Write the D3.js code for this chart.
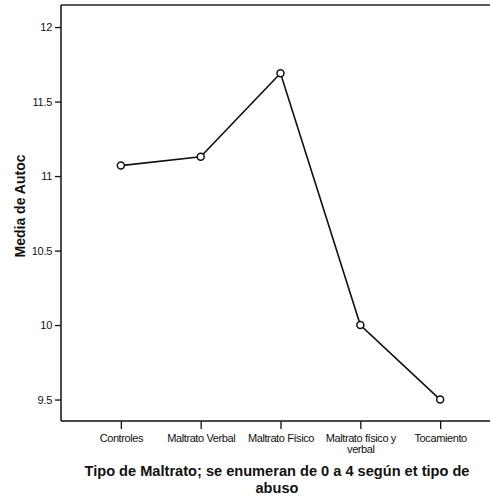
<!DOCTYPE html>
<html>
<head>
<meta charset="utf-8">
<script src="https://cdn.jsdelivr.net/npm/d3@7"></script>
<style>
  body { margin: 0; background: #fff; }
  svg { display: block; font-family: Arial, "Liberation Sans", sans-serif; }
</style>
</head>
<body>
<div id="chart"></div>
<script>
const categories = ['Controles', 'Maltrato Verbal', 'Maltrato Físico', 'Maltrato físico y verbal', 'Tocamiento'];
const means = [11.07, 11.13, 11.69, 10.0, 9.5];
const yTicks = [9.5, 10, 10.5, 11, 11.5, 12];

const width = 490;
const height = 500;
const margin = { left: 61, top: 5, right: 0, bottom: 79 };

const svg = d3.select('#chart')
  .append('svg')
  .attr('width', width)
  .attr('height', height);

const x = d3.scalePoint()
  .domain(categories)
  .range([margin.left, width + 10])
  .padding(0.75);

const y = d3.scaleLinear()
  .domain([9.356, 12.148])
  .range([height - margin.bottom, margin.top]);

// frame: top line
svg.append('line')
  .attr('x1', margin.left).attr('x2', width)
  .attr('y1', margin.top).attr('y2', margin.top)
  .attr('stroke', '#222').attr('stroke-width', 1.5);

const yAxis = svg.append('g')
  .attr('transform', `translate(${margin.left},0)`)
  .call(d3.axisLeft(y).tickValues(yTicks).tickSize(6).tickPadding(3)
    .tickFormat(d => d3.format('~g')(d)));
yAxis.select('.domain').attr('stroke', '#111').attr('stroke-width', 1.5)
  .attr('d', `M0,${margin.top}V${height - margin.bottom}`);
yAxis.selectAll('.tick line').attr('stroke', '#111').attr('stroke-width', 1.3);
yAxis.selectAll('.tick text')
  .style('font-size', '11px')
  .attr('fill', '#111')
  .attr('letter-spacing', '-0.3px');

const xAxis = svg.append('g')
  .attr('transform', `translate(0,${height - margin.bottom})`)
  .call(d3.axisBottom(x).tickSize(8).tickPadding(5));
xAxis.select('.domain').attr('stroke', '#111').attr('stroke-width', 1.5)
  .attr('d', `M${margin.left},0H${width}`);
xAxis.selectAll('.tick line').attr('stroke', '#111').attr('stroke-width', 1.3);
xAxis.selectAll('.tick text')
  .style('font-size', '11px')
  .attr('fill', '#111')
  .attr('letter-spacing', '-0.4px')
  .each(function(d) {
    if (d === 'Maltrato físico y verbal') {
      const t = d3.select(this).text(null);
      t.append('tspan').attr('x', 0).attr('dy', '0.71em').text('Maltrato físico y');
      t.append('tspan').attr('x', 0).attr('dy', '1.0em').text('verbal');
    }
  });

const line = d3.line()
  .x((d, i) => x(categories[i]))
  .y(d => y(d));

svg.append('path')
  .datum(means)
  .attr('d', line)
  .attr('fill', 'none')
  .attr('stroke', '#111')
  .attr('stroke-width', 1.6);

svg.selectAll('circle.pt')
  .data(means)
  .join('circle')
  .attr('class', 'pt')
  .attr('cx', (d, i) => x(categories[i]))
  .attr('cy', d => y(d))
  .attr('r', 3.5)
  .attr('fill', '#fff')
  .attr('stroke', '#111')
  .attr('stroke-width', 1.5);

svg.append('text')
  .attr('transform', 'translate(25,206) rotate(-90)')
  .attr('text-anchor', 'middle')
  .style('font-size', '14px')
  .style('font-weight', 'bold')
  .attr('fill', '#111')
  .text('Media de Autoc');

const title = svg.append('text')
  .attr('text-anchor', 'middle')
  .style('font-size', '14.6px')
  .style('font-weight', 'bold')
  .attr('fill', '#111');
title.append('tspan').attr('x', 277).attr('y', 476)
  .text('Tipo de Maltrato; se enumeran de 0 a 4 según et tipo de');
title.append('tspan').attr('x', 277).attr('y', 493)
  .text('abuso');
</script>
</body>
</html>
